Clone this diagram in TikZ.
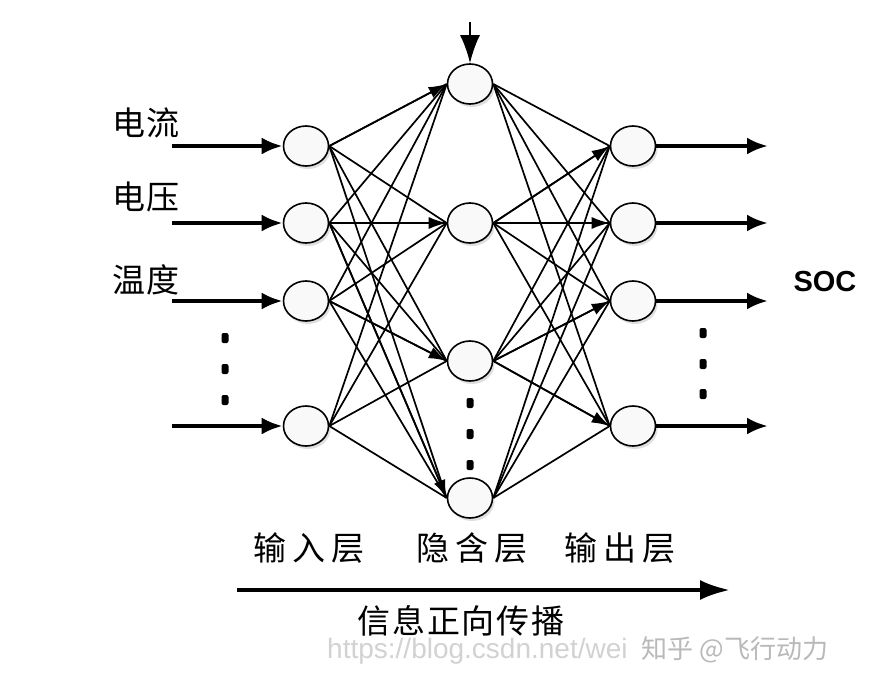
\documentclass[tikz,border=0pt]{standalone}
\usepackage{fontspec}
\newfontfamily\cjk[LetterSpace=6]{Noto Sans CJK SC}
\newfontfamily\cjkwide[LetterSpace=18]{Noto Sans CJK SC}
\newfontfamily\cjkplain{Noto Sans CJK SC}
\newfontfamily\socfont{Liberation Sans}
\usetikzlibrary{shapes.geometric,arrows.meta,shadows}
\begin{document}
\begin{tikzpicture}[x=1pt,y=-1pt,
  neuron/.style={ellipse, draw, line width=1.6pt, fill=gray!5, minimum width=45pt, minimum height=40pt, inner sep=0pt,
    drop shadow={shadow xshift=2pt, shadow yshift=-3pt, opacity=0.25, fill=gray}},
  link/.style={line width=1.7pt},
  alink/.style={line width=1.7pt, -{Latex[length=18pt,width=12pt]}},
  inarrow/.style={line width=4pt, -{Latex[length=21pt,width=17pt]}},
  toparrow/.style={line width=2pt, -{Latex[length=28pt,width=20pt]}},
  bigarrow/.style={line width=4pt, -{Latex[length=30pt,width=20pt]}},
  lbl/.style={font=\cjk\fontsize{33}{33}\selectfont, inner sep=0pt},
  layerlbl/.style={font=\cjkwide\fontsize{33}{33}\selectfont, inner sep=0pt},
  dotmark/.style={fill=black, rounded corners=2pt, minimum width=7pt, minimum height=10pt, inner sep=0pt},
  wm/.style={inner sep=0pt, text=gray!35}
]
\useasboundingbox[fill=white] (0,0) rectangle (886,686);

% nodes
\node[neuron] (i1) at (306,146) {};
\node[neuron] (i2) at (306,223) {};
\node[neuron] (i3) at (306,301) {};
\node[neuron] (i4) at (306,426) {};
\node[neuron] (h1) at (470,84) {};
\node[neuron] (h2) at (470,223) {};
\node[neuron] (h3) at (470,361) {};
\node[neuron] (h4) at (470,498) {};
\node[neuron] (o1) at (633,146) {};
\node[neuron] (o2) at (633,223) {};
\node[neuron] (o3) at (633,301) {};
\node[neuron] (o4) at (633,426) {};

% connections
\foreach \a in {1,...,4}{
  \foreach \b in {1,...,4}{
    \draw[link] (i\a.east) -- (h\b.west);
    \draw[link] (h\a.east) -- (o\b.west);
  }
}
\draw[alink] (i1.east) -- (h1.west);
\draw[alink] (i2.east) -- (h2.west);
\draw[alink] (i3.east) -- (h3.west);
\draw[alink] (i2.east) -- (h4.west);
\draw[alink] (h2.east) -- (o1.west);
\draw[alink] (h2.east) -- (o2.west);
\draw[alink] (h3.east) -- (o3.west);
\draw[alink] (h3.east) -- (o4.west);

% input / output arrows
\foreach \k/\y in {1/146,2/223,3/301,4/426}{
  \coordinate (s\k) at (172,\y);
  \coordinate (e\k) at (768,\y);
  \draw[inarrow] (s\k) -- (i\k.west);
  \draw[inarrow] (o\k.east) -- (e\k);
}
\coordinate (topin) at (470,22);
\draw[toparrow] (topin) -- (h1.north);

% labels
\node[lbl] (l1) at (146,123) {电流};
\node[lbl] (l2) at (146,197) {电压};
\node[lbl] (l3) at (146,280) {温度};
\node[inner sep=0pt, font=\socfont\bfseries\fontsize{29}{29}\selectfont] (soc) at (825,282) {SOC};

% dots
\foreach \n/\x/\y in {a1/225/338,a2/225/369,a3/225/400,b1/470/403,b2/470/434,b3/470/465,c1/703/333,c2/703/364,c3/703/394}{
  \node[dotmark] (d\n) at (\x,\y) {};
}

% layer labels
\node[layerlbl] (li) at (309,548) {输入层};
\node[layerlbl] (lh) at (472,548) {隐含层};
\node[layerlbl] (lo) at (620,548) {输出层};

% propagation arrow
\coordinate (ps) at (237,590);
\coordinate (pe) at (730,590);
\draw[bigarrow] (ps) -- (pe);
\node[lbl] (lp) at (461,621) {信息正向传播};

% watermark
\node[wm, anchor=west, font=\socfont\fontsize{28}{28}\selectfont] (url) at (327,651) {https://blog.csdn.net/wei};
\node[wm, text=gray!55, font=\cjkplain\fontsize{26}{26}\selectfont] (zh) at (735,650) {知乎 @飞行动力};
\end{tikzpicture}
\end{document}
